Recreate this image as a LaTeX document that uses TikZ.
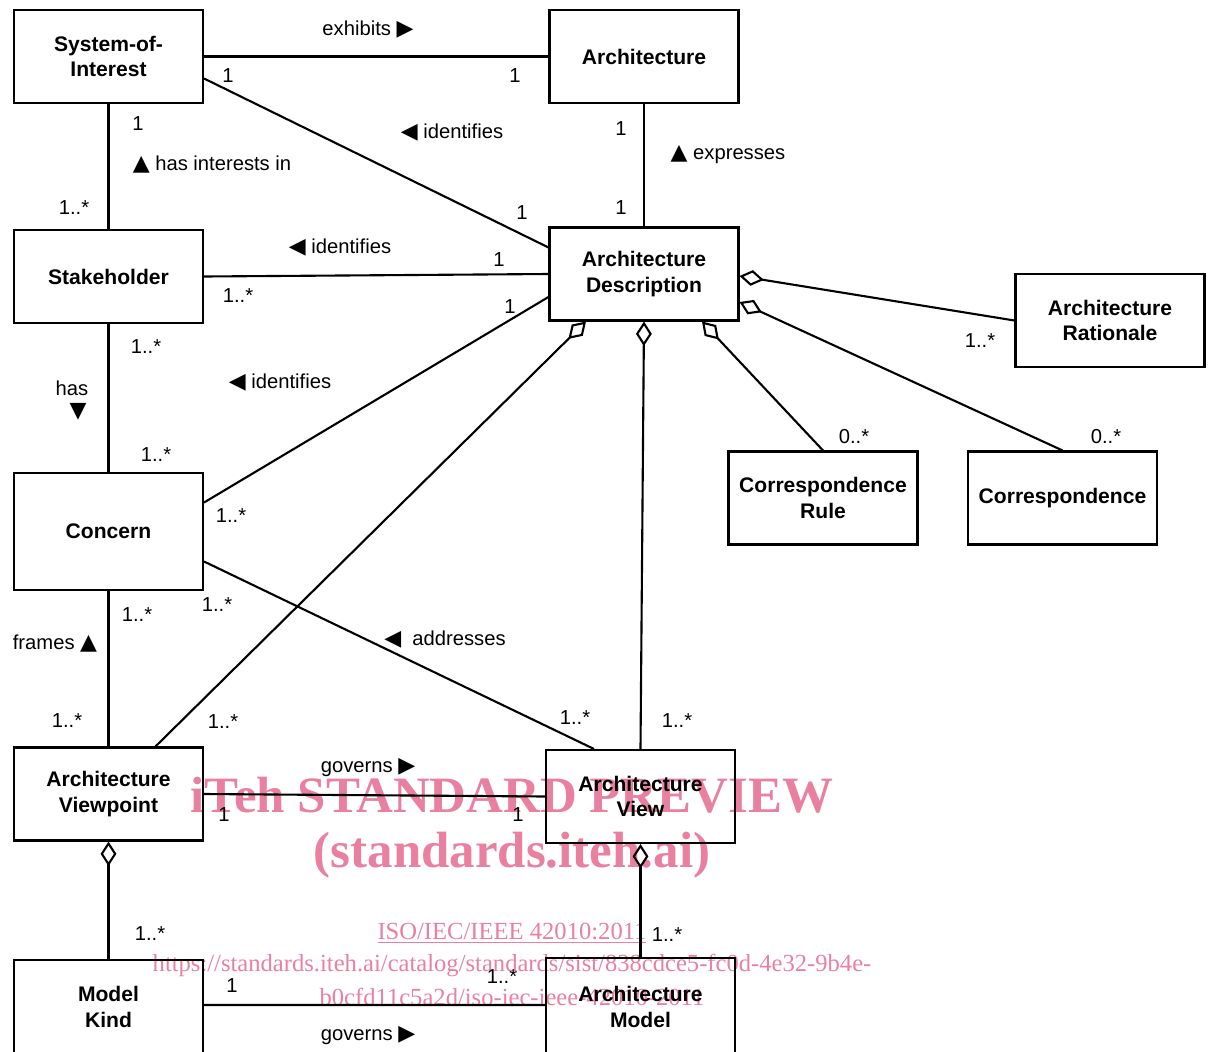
\documentclass[tikz,border=0pt]{standalone}
\usepackage{fontspec}
\setmainfont{Liberation Sans}
\newfontfamily\symfont{DejaVu Sans}
\newfontfamily\wmfont{Liberation Serif}
\usetikzlibrary{arrows.meta,calc}
\definecolor{wmpink}{RGB}{234,128,160}
\newcommand{\rtri}{{\symfont\fontsize{12.5}{12}\selectfont ▶}}
\newcommand{\ltri}{{\symfont\fontsize{12.5}{12}\selectfont ◀}}
\newcommand{\utri}{{\symfont\fontsize{12.5}{12}\selectfont ▲}}
\newcommand{\dtri}{{\symfont\fontsize{12.5}{12}\selectfont ▼}}
\tikzset{
    classbox/.style={
        draw,
        line width=1.2pt,
        minimum width=3.78cm,
        minimum height=1.86cm,
        align=center,
        inner sep=0,
        font=\fontsize{12}{14.7}\selectfont\bfseries
    },
    assoc/.style={line width=1.2pt},
    agg/.style={
        line width=1.2pt,
        {Diamond[open,length=14pt,width=9pt]}-
    },
    mult/.style={inner sep=0, font=\fontsize{11.5}{13}\selectfont},
    rolename/.style={inner sep=0, font=\fontsize{11.5}{13}\selectfont},
    watermark/.style={inner sep=0, text=wmpink, align=center}
}
\begin{document}
\begin{tikzpicture}[x=0.02cm, y=-0.02cm]
    \useasboundingbox (0,0) rectangle (1208,1052);
    \clip (0,0) rectangle (1208,1052);
    % watermark
    \node[watermark, font=\wmfont\fontsize{29}{30}\selectfont\bfseries] (wm1) at (512,795) {iTeh STANDARD PREVIEW};
    \node[watermark, font=\wmfont\fontsize{29}{30}\selectfont\bfseries] (wm2) at (512,855) {(standards.iteh.ai)};
    \node[watermark, font=\wmfont\fontsize{14}{16}\selectfont] (wm3) at (512,933) {\underline{ISO/IEC/IEEE 42010:2011}};
    \node[watermark, font=\wmfont\fontsize{14}{16}\selectfont] (wm4) at (512,965) {https://standards.iteh.ai/catalog/standards/sist/838cdce5-fc0d-4e32-9b4e-};
    \node[watermark, font=\wmfont\fontsize{14}{16}\selectfont] (wm5) at (512,997) {b0cfd11c5a2d/iso-iec-ieee-42010-2011};

    % classes
    \node[classbox] (soi) at (108.5,56.5) {System-of-\\Interest};
    \node[classbox] (arch) at (644,56.5) {Architecture};
    \node[classbox] (stake) at (108.5,276.5) {Stakeholder};
    \node[classbox] (ad) at (644,274) {Architecture\\Description};
    \node[classbox] (rat) at (1110,320.5) {Architecture\\Rationale};
    \node[classbox] (crule) at (823,498) {Correspondence\\Rule};
    \node[classbox] (corr) at (1062.5,498) {Correspondence};
    \node[classbox, minimum height=2.34cm] (concern) at (108.5,531.5) {Concern};
    \node[classbox] (vp) at (108.5,794) {Architecture\\Viewpoint};
    \node[classbox] (view) at (640.5,796.5) {Architecture\\View};
    \node[classbox, minimum height=1.88cm] (mkind) at (108.5,1007) {Model\\Kind};
    \node[classbox, minimum height=1.96cm] (amodel) at (640.5,1007) {Architecture\\Model};

    % associations
    \draw[assoc] (soi.east) -- (arch.west);
    \draw[assoc] ($(soi.east)+(0,22)$) -- ($(ad.north west)+(0,21)$);
    \draw[assoc] (arch.south) -- (ad.north);
    \draw[assoc] (soi.south) -- (stake.north);
    \draw[assoc] (stake.east) -- (ad.west);
    \draw[assoc] (stake.south) -- (concern.north);
    \draw[assoc] ($(concern.east)+(0,-29)$) -- ($(ad.west)+(0,23)$);
    \draw[assoc] ($(concern.east)+(0,30)$) -- ($(view.north west)+(49,0)$);
    \draw[assoc] (concern.south) -- (vp.north);
    \draw[assoc] (vp.east) -- (view.west);
    \draw[assoc] ($(mkind.north east)+(0,46)$) -- ($(amodel.north west)+(0,48)$);

    % aggregations
    \draw[agg] ($(ad.south)+(-58,0)$) -- ($(vp.north)+(47,0)$);
    \draw[agg] (ad.south) -- (view.north);
    \draw[agg] ($(ad.south)+(58,0)$) -- (crule.north);
    \draw[agg] ($(ad.east)+(0,2)$) -- (rat.west);
    \draw[agg] ($(ad.east)+(0,28)$) -- (corr.north);
    \draw[agg] (vp.south) -- (mkind.north);
    \draw[agg] (view.south) -- (amodel.north);

    % association names
    \node[rolename] (n1) at (368,30) {exhibits \rtri};
    \node[rolename] (n2) at (452,133) {\ltri\ identifies};
    \node[rolename] (n3) at (728,155) {\utri\ expresses};
    \node[rolename] (n4) at (212,165) {\utri\ has interests in};
    \node[rolename] (n5) at (340,248) {\ltri\ identifies};
    \node[rolename] (n6) at (72,388) {has};
    \node[rolename] (n7) at (78,412) {\dtri};
    \node[rolename] (n8) at (280,383) {\ltri\ identifies};
    \node[rolename] (n9) at (55,644) {frames \utri};
    \node[rolename] (n10) at (445,640) {\ltri\ \ addresses};
    \node[rolename] (n11) at (368,768) {governs \rtri};
    \node[rolename] (n12) at (368,1036) {governs \rtri};

    % multiplicities
    \node[mult] (m1) at (228,76) {1};
    \node[mult] (m2) at (515,76) {1};
    \node[mult] (m3) at (522,213) {1};
    \node[mult] (m4) at (621,129) {1};
    \node[mult] (m5) at (621,208) {1};
    \node[mult] (m6) at (138,124) {1};
    \node[mult] (m7) at (74,208) {1..*};
    \node[mult] (m8) at (499,260) {1};
    \node[mult] (m9) at (238,296) {1..*};
    \node[mult] (m10) at (510,307) {1};
    \node[mult] (m11) at (146,347) {1..*};
    \node[mult] (m12) at (156,455) {1..*};
    \node[mult] (m13) at (231,516) {1..*};
    \node[mult] (m14) at (980,341) {1..*};
    \node[mult] (m15) at (854,437) {0..*};
    \node[mult] (m16) at (1106,437) {0..*};
    \node[mult] (m17) at (217,605) {1..*};
    \node[mult] (m18) at (137,615) {1..*};
    \node[mult] (m19) at (67,721) {1..*};
    \node[mult] (m20) at (223,722) {1..*};
    \node[mult] (m21) at (575,718) {1..*};
    \node[mult] (m22) at (677,721) {1..*};
    \node[mult] (m23) at (224,815) {1};
    \node[mult] (m24) at (518,815) {1};
    \node[mult] (m25) at (150,934) {1..*};
    \node[mult] (m26) at (667,935) {1..*};
    \node[mult] (m27) at (232,986) {1};
    \node[mult] (m28) at (502,977) {1..*};
\end{tikzpicture}
\end{document}
